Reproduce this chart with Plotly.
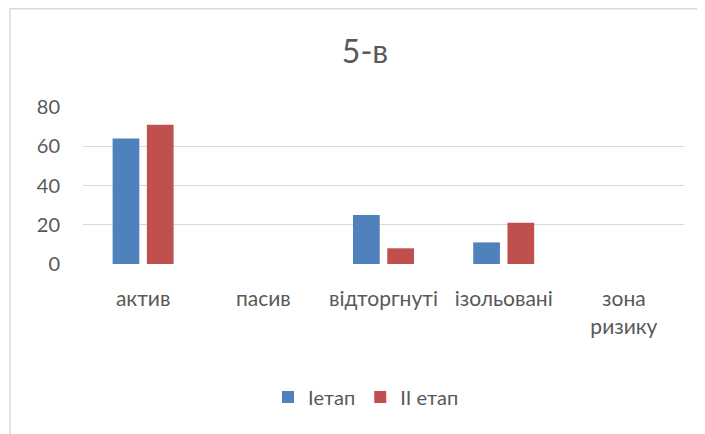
import plotly.graph_objects as go

categories = ["актив", "пасив", "відторгнуті", "ізольовані", "зона<br>ризику"]
stage1 = [64, 0, 25, 11, 0]
stage2 = [71, 0, 8, 21, 0]
series_names = ["Iетап", "II етап"]
y_ticks = [0, 20, 40, 60, 80]
title_text = "5-в"

# page has an 8px body margin; figure coordinates are page coordinates - 8
OFF = 8
W, H = 705 - OFF, 434 - OFF
ML, MR, MT, MB = 83 - OFF, 21, 107 - OFF, 170
pw = W - ML - MR
ph = H - MT - MB

FONT = "Lato, 'Open Sans', sans-serif"
GREY = "#595959"

fig = go.Figure()
fig.add_trace(go.Bar(x=categories, y=stage1, name=series_names[0],
                     marker=dict(color="#4F81BD", line=dict(width=0))))
fig.add_trace(go.Bar(x=categories, y=stage2, name=series_names[1],
                     marker=dict(color="#C0504D", line=dict(width=0))))


def px_x(p):
    return (p - OFF - ML) / pw


def px_y(p):
    return (H - MB - (p - OFF)) / ph


fig.update_layout(
    width=W, height=H,
    margin=dict(l=ML, r=MR, t=MT, b=MB, pad=0),
    paper_bgcolor="white", plot_bgcolor="white",
    barmode="group", bargap=0.43, bargroupgap=0.22,
    title=dict(text=title_text, x=(365 - OFF) / W, xref="container", xanchor="center",
               y=1 - (52 - OFF) / H, yref="container", yanchor="middle",
               font=dict(family=FONT, size=32, color=GREY)),
    font=dict(family=FONT, color=GREY),
    xaxis=dict(showgrid=False, zeroline=False, showline=False,
               ticks="outside", ticklen=16, tickcolor="rgba(0,0,0,0)",
               tickfont=dict(size=21, color=GREY), fixedrange=True),
    yaxis=dict(range=[0, 80], tickvals=y_ticks, showgrid=True,
               gridcolor="#D9D9D9", gridwidth=1.3, zeroline=False,
               showline=False, ticks="outside", ticklen=18,
               tickcolor="rgba(0,0,0,0)",
               tickfont=dict(size=20, color=GREY)),
    showlegend=True,
    legend=dict(orientation="h", x=(366 - OFF) / W, xref="container", xanchor="center",
                y=1 - (397 - OFF) / H, yref="container", yanchor="middle",
                font=dict(size=20, color=GREY), itemwidth=30,
                bgcolor="rgba(0,0,0,0)"),
    shapes=[
        dict(type="line", xref="paper", yref="paper",
             x0=px_x(10), x1=px_x(10), y0=px_y(440), y1=px_y(8.75),
             line=dict(color="#D9D9D9", width=1.5)),
        dict(type="line", xref="paper", yref="paper",
             x0=px_x(10), x1=px_x(720), y0=px_y(8.75), y1=px_y(8.75),
             line=dict(color="#D9D9D9", width=1.5)),
    ],
)

fig.write_html("out.html")
